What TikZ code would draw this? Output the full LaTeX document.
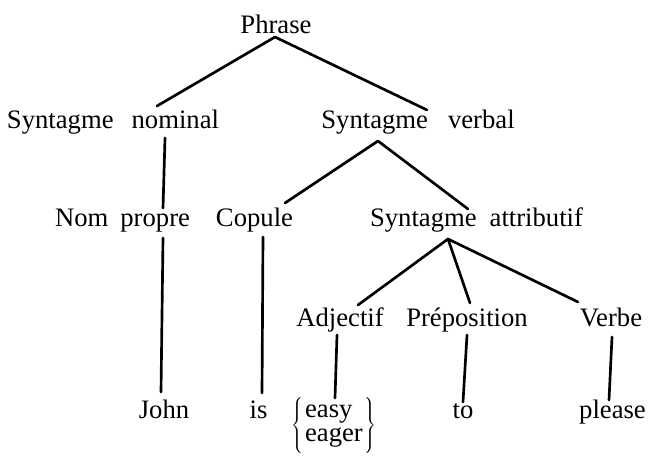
\documentclass[tikz,border=0pt]{standalone}
\usepackage{fontspec}
\setmainfont{Liberation Serif}
\usetikzlibrary{calc}
\begin{document}
\begin{tikzpicture}[x=0.75pt,y=-0.75pt,
  lbl/.style={anchor=base,inner sep=0pt,font=\fontsize{20}{18}\selectfont},
  wordgap/.style={font={\fontsize{20}{18}\selectfont\spaceskip=#1\relax}},
  edge/.style={line width=2pt,line cap=round}]
\useasboundingbox (0,0) rectangle (649,457);

% labels of the tree
\node[lbl] (phrase) at (276,33) {Phrase};
\node[lbl,wordgap=13.5pt] (sn) at (113,128) {Syntagme nominal};
\node[lbl,wordgap=15pt] (sv) at (418,128) {Syntagme verbal};
\node[lbl,wordgap=9pt] (np) at (122.5,226) {Nom propre};
\node[lbl] (cop) at (254.5,226) {Copule};
\node[lbl,wordgap=9.75pt] (sa) at (476.5,226) {Syntagme attributif};
\node[lbl] (adj) at (340,326) {Adjectif};
\node[lbl] (prep) at (467,326) {Préposition};
\node[lbl] (verbe) at (611,326) {Verbe};
\node[lbl] (john) at (164,418) {John};
\node[lbl] (is) at (258.5,418) {is};
% the two adjectives between tall braces
\node[anchor=base west,inner sep=0pt,font=\fontsize{20}{18}\selectfont] (ee) at (291,432)
  {$\left\{\rule[-17pt]{0pt}{44pt}\hspace{1.5pt}\begin{tabular}{@{}l@{}}easy\\eager\end{tabular}\hspace{1.5pt}\right\}$};
\node[lbl] (to) at (463,418) {to};
\node[lbl] (please) at (612.5,418) {please};

% branches
\draw[edge] ($(phrase.base)+(-1,4)$) -- ($(sn.base)+(44,-22)$);
\draw[edge] ($(phrase.base)+(-1,4)$) -- ($(sv.base)+(9,-18)$);
\draw[edge] ($(sn.base)+(52,10)$) -- ($(np.base)+(40.5,-18)$);
\draw[edge] ($(np.base)+(40.5,12)$) -- ($(john.base)+(-3,-26)$);
\draw[edge] ($(sv.base)+(-40,13)$) -- ($(cop.base)+(30.5,-23)$);
\draw[edge] ($(sv.base)+(-40,13)$) -- ($(sa.base)+(-8.5,-17)$);
\draw[edge] ($(cop.base)+(8.5,11)$) -- ($(is.base)+(3.5,-25)$);
\draw[edge] ($(sa.base)+(-28.5,13)$) -- ($(adj.base)+(18,-21)$);
\draw[edge] ($(sa.base)+(-28.5,13)$) -- ($(prep.base)+(3,-23)$);
\draw[edge] ($(sa.base)+(-28.5,13)$) -- ($(verbe.base)+(-33,-24)$);
\draw[edge] ($(adj.base)+(-3,9)$) -- ($(ee.base west)+(44,-34)$);
\draw[edge] ($(prep.base)+(0,9)$) -- ($(to.base)+(0,-16)$);
\draw[edge] ($(verbe.base)+(1,11)$) -- ($(please.base)+(-3.5,-18)$);
\end{tikzpicture}
\end{document}
